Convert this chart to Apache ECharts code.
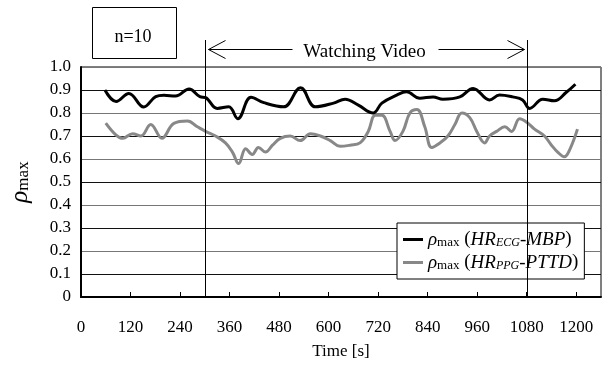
<!DOCTYPE html>
<html>
<head>
<meta charset="utf-8">
<script src="https://cdn.jsdelivr.net/npm/echarts@6/dist/echarts.min.js"></script>
<style>
  html, body { margin: 0; padding: 0; background: #fff; }
  #chart { width: 604px; height: 367px; }
</style>
</head>
<body>
<div id="chart"></div>
<script>
// time [s] and rho_max values
var ecgTime = [58, 85, 116, 152, 181, 201, 229, 262, 288, 302, 330, 358, 380, 412, 443, 491, 532, 568, 612, 640, 672, 708, 729, 765, 789, 821, 853, 877, 918, 950, 990, 1014, 1046, 1070, 1087, 1119, 1147, 1176, 1198];
var ecgRho = [0.90, 0.85, 0.885, 0.826, 0.871, 0.877, 0.874, 0.904, 0.871, 0.867, 0.82, 0.827, 0.775, 0.868, 0.845, 0.827, 0.91, 0.827, 0.843, 0.86, 0.834, 0.80, 0.843, 0.878, 0.892, 0.864, 0.87, 0.86, 0.87, 0.907, 0.857, 0.878, 0.87, 0.857, 0.82, 0.86, 0.853, 0.89, 0.925];

var ppgTime = [60, 85, 101, 125, 145, 169, 196, 225, 258, 282, 302, 326, 350, 367, 382, 399, 415, 430, 447, 464, 483, 507, 531, 556, 580, 604, 628, 652, 676, 696, 713, 729, 749, 761, 780, 797, 814, 833, 850, 870, 889, 906, 923, 942, 959, 978, 990, 1007, 1027, 1043, 1063, 1080, 1099, 1123, 1140, 1155, 1171, 1184, 1203];
var ppgRho = [0.756, 0.704, 0.69, 0.71, 0.70, 0.75, 0.69, 0.755, 0.765, 0.74, 0.72, 0.70, 0.67, 0.63, 0.58, 0.645, 0.62, 0.65, 0.63, 0.66, 0.69, 0.70, 0.68, 0.71, 0.70, 0.68, 0.655, 0.66, 0.67, 0.72, 0.79, 0.79, 0.72, 0.68, 0.72, 0.80, 0.815, 0.74, 0.65, 0.67, 0.70, 0.75, 0.80, 0.78, 0.72, 0.67, 0.70, 0.72, 0.74, 0.72, 0.775, 0.76, 0.73, 0.70, 0.66, 0.63, 0.61, 0.64, 0.73];

var xTicks = [0, 120, 240, 360, 480, 600, 720, 840, 960, 1080, 1200];
var videoStart = 300, videoEnd = 1080;
var seriesNames = ['ecg', 'ppg'];

var font = 'Liberation Serif, Times New Roman, serif';

function pairs(t, v) {
  return t.map(function (x, i) { return [x, v[i]]; });
}

var myChart = echarts.init(document.getElementById('chart'));

var legendRich = {
  r: { fontFamily: font, fontSize: 19, fontStyle: 'italic' },
  m: { fontFamily: font, fontSize: 13, padding: [6, 0, 0, 0] },
  n: { fontFamily: font, fontSize: 19 },
  i: { fontFamily: font, fontSize: 19, fontStyle: 'italic' },
  s: { fontFamily: font, fontSize: 12, fontStyle: 'italic', padding: [7, 0, 0, 0] }
};

var option = {
  animation: false,
  grid: { left: 80, right: 3, top: 67, bottom: 70, show: true, borderColor: '#000', borderWidth: 1 },
  xAxis: {
    type: 'value', min: 0, max: 1260, interval: 120,
    name: 'Time [s]', nameLocation: 'middle', nameGap: 46,
    nameTextStyle: { fontFamily: font, fontSize: 17, color: '#000' },
    axisLine: { lineStyle: { color: '#000', width: 2 } },
    axisTick: { inside: true, length: 5, lineStyle: { color: '#000' } },
    axisLabel: {
      fontFamily: font, fontSize: 17, color: '#000', margin: 22, showMaxLabel: false,
      formatter: function (v) { return xTicks.indexOf(v) >= 0 ? String(v) : ''; }
    },
    splitLine: { show: false }
  },
  yAxis: {
    type: 'value', min: 0, max: 1, interval: 0.1,
    name: '{r|ρ}{m|max}', nameLocation: 'middle', nameGap: 48, nameRotate: 90,
    nameTextStyle: { color: '#000', rich: {
      r: { fontFamily: font, fontSize: 25, fontStyle: 'italic' },
      m: { fontFamily: font, fontSize: 17, padding: [6, 0, 0, 0] }
    } },
    axisLine: { show: true, lineStyle: { color: '#000', width: 2 } },
    axisTick: { show: false },
    axisLabel: {
      fontFamily: font, fontSize: 17, color: '#000', margin: 10,
      formatter: function (v) { return v === 0 ? '0' : v.toFixed(1); }
    },
    splitLine: { lineStyle: { color: ['#777', '#111'], width: 1 } }
  },
  legend: {
    left: 397, top: 223, orient: 'vertical',
    padding: [7, 6, 7, 6], itemGap: 4,
    backgroundColor: '#fff', borderColor: '#000', borderWidth: 1,
    icon: 'rect', itemWidth: 20, itemHeight: 3,
    data: seriesNames,
    formatter: function (name) {
      if (name === 'ecg') return '{r|ρ}{m|max}{n| (}{i|HR}{s|ECG}{i|-MBP}{n|)}';
      return '{r|ρ}{m|max}{n| (}{i|HR}{s|PPG}{i|-PTTD}{n|)}';
    },
    textStyle: { color: '#000', rich: legendRich }
  },
  series: [
    {
      name: 'ecg', type: 'line', data: pairs(ecgTime, ecgRho),
      symbol: 'none', smooth: 0.4, z: 3,
      lineStyle: { color: '#000', width: 3 }, itemStyle: { color: '#000' }
    },
    {
      name: 'ppg', type: 'line', data: pairs(ppgTime, ppgRho),
      symbol: 'none', smooth: 0.4, z: 2,
      lineStyle: { color: '#888', width: 3 }, itemStyle: { color: '#888' }
    }
  ]
};
myChart.setOption(option);

// annotation: "n=10" box, video start/end lines and the arrows above the plot
var p0 = myChart.convertToPixel({ gridIndex: 0 }, [videoStart, 0]);
var p1 = myChart.convertToPixel({ gridIndex: 0 }, [videoEnd, 0]);
var x1 = Math.round(p0[0]) + 0.5, x2 = Math.round(p1[0]) + 0.5, yb = p0[1];
var ya = 49.5, topY = 40, mid = (x1 + x2) / 2;
var lineStyle = { stroke: '#000', lineWidth: 1 };

myChart.setOption({
  graphic: [
    { type: 'rect', shape: { x: 92.5, y: 7.5, width: 84, height: 51 }, style: { fill: '#fff', stroke: '#000', lineWidth: 1 } },
    { type: 'text', x: 133, y: 37, style: { text: 'n=10', font: '18px ' + font, fill: '#000', align: 'center', verticalAlign: 'middle' } },
    { type: 'line', shape: { x1: x1, y1: topY, x2: x1, y2: yb }, style: lineStyle, z: 10 },
    { type: 'line', shape: { x1: x2, y1: topY, x2: x2, y2: yb }, style: lineStyle, z: 10 },
    { type: 'line', shape: { x1: x1 + 3, y1: ya, x2: mid - 74, y2: ya }, style: lineStyle },
    { type: 'line', shape: { x1: mid + 72, y1: ya, x2: x2 - 3, y2: ya }, style: lineStyle },
    { type: 'polyline', shape: { points: [[x1 + 20, ya - 9], [x1 + 3, ya], [x1 + 20, ya + 9]] }, style: { stroke: '#000', lineWidth: 1, fill: null } },
    { type: 'polyline', shape: { points: [[x2 - 20, ya - 9], [x2 - 3, ya], [x2 - 20, ya + 9]] }, style: { stroke: '#000', lineWidth: 1, fill: null } },
    { type: 'text', x: mid - 2, y: 52, style: { text: 'Watching Video', font: '19px ' + font, fill: '#000', align: 'center', verticalAlign: 'middle' } }
  ]
});
</script>
</body>
</html>
